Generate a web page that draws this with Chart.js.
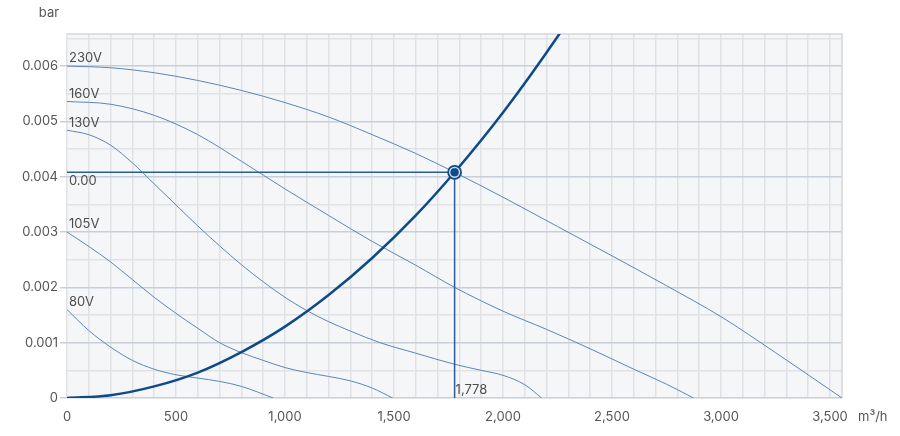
<!DOCTYPE html>
<html>
<head>
<meta charset="utf-8">
<script src="https://cdn.jsdelivr.net/npm/chart.js@4.4.1/dist/chart.umd.min.js"></script>
<style>
  html, body { margin: 0; padding: 0; background: #fff; }
  canvas { display: block; }
</style>
</head>
<body>
<canvas id="chart" width="900" height="436"></canvas>
<script>
// Fan curves (flow in m³/h, pressure in bar)
const FLOW_230 = [0, 200, 400, 600, 800, 1000, 1200, 1400, 1600, 1778, 2000, 2250, 2500, 2750, 3000, 3250, 3555];
const HEAD_230 = [0.006, 0.00597, 0.00588, 0.00574, 0.00556, 0.00534, 0.00508, 0.00476, 0.00442, 0.00408, 0.00363, 0.0031, 0.00257, 0.00203, 0.00147, 0.00082, 0];

const FLOW_160 = [0, 200, 400, 600, 800, 1000, 1200, 1400, 1600, 1778, 2000, 2200, 2400, 2600, 2750, 2874];
const HEAD_160 = [0.00536, 0.00531, 0.00511, 0.00476, 0.00428, 0.00378, 0.0033, 0.00283, 0.0024, 0.002, 0.00157, 0.00124, 0.00089, 0.00052, 0.00025, 0];

const FLOW_130 = [0, 100, 200, 300, 400, 500, 600, 700, 800, 900, 1000, 1100, 1200, 1300, 1436, 1600, 1778, 1900, 2000, 2100, 2177];
const HEAD_130 = [0.00484, 0.00476, 0.00457, 0.00425, 0.00387, 0.00349, 0.00311, 0.00275, 0.00241, 0.0021, 0.00182, 0.00158, 0.00138, 0.00121, 0.001, 0.00081, 0.00061, 0.0005, 0.00041, 0.00024, 0];

const FLOW_105 = [0, 100, 200, 300, 400, 500, 600, 700, 800, 900, 1000, 1100, 1200, 1300, 1400, 1494];
const HEAD_105 = [0.003, 0.00274, 0.00246, 0.00214, 0.00182, 0.00153, 0.00126, 0.001, 0.00082, 0.00068, 0.00055, 0.00046, 0.00039, 0.00031, 0.00018, 0];

const FLOW_80 = [0, 100, 200, 300, 400, 500, 600, 700, 800, 946];
const HEAD_80 = [0.0016, 0.00122, 0.00092, 0.00068, 0.00052, 0.00042, 0.00036, 0.0003, 0.00021, 0];

// System resistance curve
const SYSTEM_FLOW = [0, 200, 400, 600, 800, 1000, 1200, 1400, 1600, 1778, 2000, 2250, 2300];
const SYSTEM_HEAD = [0, 0.00005, 0.00021, 0.00046, 0.00083, 0.00129, 0.00186, 0.00253, 0.0033, 0.00408, 0.00516, 0.00653, 0.00683];

// Duty point
const DUTY_FLOW = 1778;
const DUTY_HEAD = 0.00408;

const CURVE_LABELS = ['230V', '160V', '130V', '105V', '80V'];
const X_MAX = 3555;
const Y_MAX = 0.00658;

const FONT = 'Inter, "Noto Sans", sans-serif';
const CURVE_COLOR = '#5d86b6';
const SYSTEM_COLOR = '#0f4a88';
const DUTY_COLOR = '#2b5c99';

const pts = (xs, ys) => xs.map((x, i) => ({ x, y: ys[i] }));

const fanCurves = [
  pts(FLOW_230, HEAD_230),
  pts(FLOW_160, HEAD_160),
  pts(FLOW_130, HEAD_130),
  pts(FLOW_105, HEAD_105),
  pts(FLOW_80, HEAD_80),
];

// lower "order" is drawn on top
const datasets = fanCurves.map((data, i) => ({
  label: CURVE_LABELS[i],
  data,
  order: 5,
  borderColor: CURVE_COLOR,
  borderWidth: 1,
  pointRadius: 0,
  cubicInterpolationMode: 'monotone',
}));

datasets.push({
  label: 'system',
  data: pts(SYSTEM_FLOW, SYSTEM_HEAD),
  order: 4,
  borderColor: SYSTEM_COLOR,
  borderWidth: 2.5,
  pointRadius: 0,
  cubicInterpolationMode: 'monotone',
});

datasets.push({
  label: 'duty lines',
  data: [{ x: 0, y: DUTY_HEAD }, { x: DUTY_FLOW, y: DUTY_HEAD }, { x: DUTY_FLOW, y: 0 }],
  order: 3,
  borderColor: DUTY_COLOR,
  borderWidth: 1.5,
  pointRadius: 0,
  tension: 0,
});

datasets.push({
  label: 'duty ring',
  data: [{ x: DUTY_FLOW, y: DUTY_HEAD }],
  order: 2,
  showLine: false,
  pointRadius: 6.5,
  pointBackgroundColor: '#d9e3ef',
  pointBorderColor: SYSTEM_COLOR,
  pointBorderWidth: 1.8,
});

datasets.push({
  label: 'duty dot',
  data: [{ x: DUTY_FLOW, y: DUTY_HEAD }],
  order: 1,
  showLine: false,
  pointRadius: 4,
  pointBackgroundColor: SYSTEM_COLOR,
  pointBorderColor: SYSTEM_COLOR,
  pointBorderWidth: 0.5,
});

const isMajorY = (v) => Math.abs(v * 1000 - Math.round(v * 1000)) < 1e-6;

// plot background + top/right border
const plotFrame = {
  id: 'plotFrame',
  beforeDraw(chart) {
    const { ctx, chartArea: a } = chart;
    ctx.save();
    ctx.fillStyle = '#f5f6f8';
    ctx.fillRect(a.left, a.top, a.right - a.left, a.bottom - a.top);
    ctx.restore();
  },
  beforeDatasetsDraw(chart) {
    const { ctx, chartArea: a } = chart;
    ctx.save();
    ctx.strokeStyle = '#d3d6da';
    ctx.lineWidth = 1.5;
    ctx.beginPath();
    ctx.moveTo(a.left, a.top);
    ctx.lineTo(a.right, a.top);
    ctx.lineTo(a.right, a.bottom);
    ctx.stroke();
    ctx.restore();
  },
};

// curve names, duty values, axis units
const textLayer = {
  id: 'textLayer',
  afterDatasetsDraw(chart) {
    const { ctx, scales: { x, y }, chartArea: a } = chart;
    ctx.save();
    ctx.font = '13px ' + FONT;
    ctx.fillStyle = '#4d4d4d';
    ctx.textAlign = 'left';
    ctx.textBaseline = 'bottom';
    fanCurves.forEach((c, i) => {
      ctx.fillText(CURVE_LABELS[i], x.getPixelForValue(0) + 2, y.getPixelForValue(c[0].y) - 1);
    });
    ctx.textBaseline = 'top';
    ctx.fillText(DUTY_HEAD.toFixed(2), x.getPixelForValue(0) + 2, y.getPixelForValue(DUTY_HEAD) + 2);
    ctx.textBaseline = 'bottom';
    ctx.fillText(DUTY_FLOW.toLocaleString('en-US'), x.getPixelForValue(DUTY_FLOW) + 1, y.getPixelForValue(0) - 1);

    ctx.fillStyle = '#555';
    ctx.textBaseline = 'middle';
    ctx.textAlign = 'center';
    ctx.fillText('bar', a.left - 18, 13);
    ctx.textAlign = 'left';
    ctx.fillText('m³/h', a.right + 16, a.bottom + 19);
    ctx.restore();
  },
};

new Chart(document.getElementById('chart'), {
  type: 'line',
  data: { datasets },
  plugins: [plotFrame, textLayer],
  options: {
    responsive: false,
    animation: false,
    layout: { padding: { left: 0, right: 58, top: 34, bottom: 0 } },
    plugins: { legend: { display: false }, tooltip: { enabled: false } },
    scales: {
      x: {
        type: 'linear',
        min: 0,
        max: X_MAX,
        afterFit: (s) => { s.height = 38; },
        border: { display: false },
        grid: {
          drawTicks: false,
          color: '#e0e2e5',
          lineWidth: 1.5,
        },
        ticks: {
          stepSize: 100,
          includeBounds: false,
          autoSkip: false,
          maxRotation: 0,
          padding: 11,
          color: '#555',
          font: { family: FONT, size: 13 },
          callback: (v) => (v % 500 === 0 ? v.toLocaleString('en-US') : ''),
        },
      },
      y: {
        type: 'linear',
        min: 0,
        max: Y_MAX,
        afterFit: (s) => { s.width = 67; },
        border: { display: false },
        grid: {
          tickLength: 7,
          color: (c) => (c.tick && isMajorY(c.tick.value) ? '#c8cfd9' : '#e0e2e5'),
          tickColor: (c) => (c.tick && isMajorY(c.tick.value) ? '#c8cfd9' : 'rgba(0,0,0,0)'),
          lineWidth: 1.5,
        },
        ticks: {
          stepSize: 0.0005,
          includeBounds: false,
          autoSkip: false,
          padding: 2,
          color: '#555',
          font: { family: FONT, size: 13 },
          callback: (v) => (isMajorY(v) ? (v === 0 ? '0' : v.toFixed(3)) : ''),
        },
      },
    },
  },
});
</script>
</body>
</html>
